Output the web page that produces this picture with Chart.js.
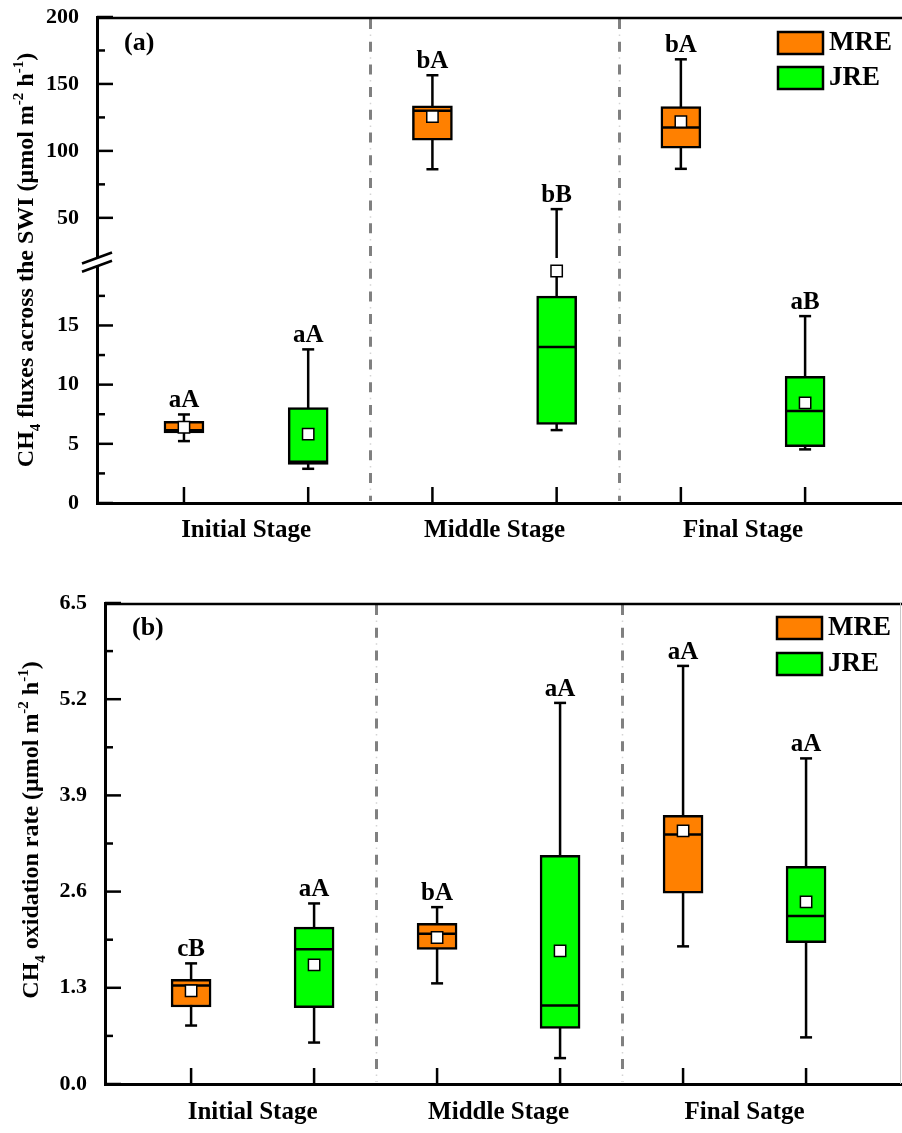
<!DOCTYPE html>
<html>
<head>
<meta charset="utf-8">
<script src="https://cdn.jsdelivr.net/npm/chart.js@4.4.1/dist/chart.umd.min.js"></script>
<style>
  body { margin: 0; background: #fff; }
  canvas { display: block; }
</style>
</head>
<body>
<canvas id="panelA" width="902" height="560"></canvas>
<canvas id="panelB" width="902" height="573"></canvas>
<script>
/* CH4 fluxes (a) and CH4 oxidation rate (b): box plots per stage, MRE vs JRE */

const SERIES = ['MRE', 'JRE'];
const STAGES_A = ['Initial Stage', 'Middle Stage', 'Final Stage'];
const STAGES_B = ['Initial Stage', 'Middle Stage', 'Final Satge'];

// [min, Q1, median, Q3, max] per stage
const fluxMRE = [[5.23, 5.93, 6.15, 6.91, 7.48], [86.3, 108, 129.9, 133.6, 156.5], [86.6, 102, 117.4, 133.1, 168.4]];
const fluxJRE = [[2.89, 3.26, 3.48, 8.07, 12.98], [6.16, 6.63, 13.18, 17.48, 56.5], [4.53, 4.75, 7.78, 10.71, 15.79]];
const fluxMREMean = [6.4, 125.6, 121.9];
const fluxJREMean = [5.82, 19.6, 8.46];
const fluxMRELetters = ['aA', 'bA', 'bA'];
const fluxJRELetters = ['aA', 'bB', 'aB'];

const oxMRE = [[0.79, 1.04, 1.33, 1.415, 1.63], [1.36, 1.82, 2.03, 2.17, 2.39], [1.86, 2.58, 3.37, 3.63, 5.65]];
const oxJRE = [[0.56, 1.03, 1.82, 2.12, 2.44], [0.35, 0.75, 1.06, 3.09, 5.15], [0.63, 1.91, 2.27, 2.94, 4.40]];
const oxMREMean = [1.26, 1.98, 3.42];
const oxJREMean = [1.61, 1.80, 2.46];
const oxMRELetters = ['cB', 'bA', 'aA'];
const oxJRELetters = ['aA', 'aA', 'aA'];

// tick values
const fluxLowTicks = [0, 5, 10, 15];
const fluxLowMinor = [2.5, 7.5, 12.5, 17.5];
const fluxHighTicks = [50, 100, 150, 200];
const fluxHighMinor = [75, 125, 175];
const oxTicks = [0, 1.3, 2.6, 3.9, 5.2, 6.5];
const oxMinor = [0.65, 1.95, 3.25, 4.55, 5.85];

const BREAK = 20;        // axis break in panel (a)
const LOW_TOP = 20.7;    // lower segment runs a bit past the break -> gap
const X_MIN = 0.3, X_MAX = 6.78;
const FONT = '"Liberation Serif", "Times New Roman", serif';
const COLORS = { MRE: '#ff8000', JRE: '#00ff00' };

const posOf = (stage, si) => stage * 2 + si + 1;

/* ---- datasets for one series, split over the y axes it touches ---- */
function boxDatasets(series, stats, means, axes) {
  const si = SERIES.indexOf(series);
  const out = [];
  axes.forEach(ax => {
    const inAx = v => v >= ax.lo && v <= ax.hi;
    const whisk = [], caps = [], boxes = [], meds = [], mns = [];
    stats.forEach(([mn, q1, md, q3, mx], i) => {
      const x = posOf(i, si);
      const a = Math.max(mn, ax.lo), b = Math.min(mx, ax.hi);
      if (a < b) whisk.push({ x, y: a }, { x, y: b }, { x, y: null });
      [mn, mx].filter(inAx).forEach(v => caps.push({ x, y: v }));
      if (inAx(q1) && inAx(q3)) boxes.push({ x, y: [q1, q3] });
      if (inAx(md)) meds.push({ x, y: md });
      if (inAx(means[i])) mns.push({ x, y: means[i] });
    });
    out.push(
      { type: 'line', yAxisID: ax.id, data: whisk, borderColor: '#000', borderWidth: 2.5, pointRadius: 0, spanGaps: false, order: 3 },
      { type: 'bar', yAxisID: ax.id, data: boxes, backgroundColor: COLORS[series], borderColor: '#000', borderWidth: 2.5,
        borderSkipped: false, barThickness: 40, grouped: false, order: 2 },
      { type: 'scatter', yAxisID: ax.id, data: caps, pointStyle: 'line', pointRadius: 6, borderColor: '#000', borderWidth: 2.5, order: 1 },
      { type: 'scatter', yAxisID: ax.id, data: meds, pointStyle: 'line', pointRadius: 19, borderColor: '#000', borderWidth: 2.5, order: 1 },
      { type: 'scatter', yAxisID: ax.id, data: mns, pointStyle: 'rect', pointRadius: 8, backgroundColor: '#fff',
        borderColor: '#000', borderWidth: 1.5, order: 0 }
    );
  });
  return out;
}

/* ---- scales ---- */
function yScale(major, minor, min, max, width, fmt, extra) {
  return Object.assign({
    type: 'linear', position: 'left', min, max,
    grid: { display: false, drawTicks: false },
    border: { color: '#000', width: 3 },
    afterBuildTicks: s => { s.ticks = [...major, ...minor].sort((a, b) => a - b).map(value => ({ value })); },
    afterFit: s => { s.width = width; s.paddingTop = 0; s.paddingBottom = 0; },
    ticks: {
      autoSkip: false, padding: 18, color: '#000',
      font: { family: FONT, size: 22, weight: 'bold' },
      callback: v => major.includes(v) ? fmt(v) : ''
    }
  }, extra || {});
}

function xScale(labels, height, pad) {
  return {
    type: 'linear', min: X_MIN, max: X_MAX, offset: false,
    grid: { display: false, drawTicks: false, offset: false },
    border: { color: '#000', width: 3 },
    afterBuildTicks: s => { s.ticks = labels.map((_, i) => ({ value: i * 2 + 1.5 })); },
    afterFit: s => { s.height = height; s.paddingLeft = 0; s.paddingRight = 0; },
    ticks: {
      autoSkip: false, maxRotation: 0, padding: pad, color: '#000',
      font: { family: FONT, size: 25, weight: 'bold' },
      callback: (v, i) => labels[i]
    }
  };
}

/* ---- rotated title with sub/superscripts ---- */
function drawRich(ctx, segs, cx, cy, size) {
  ctx.save();
  ctx.translate(cx, cy);
  ctx.rotate(-Math.PI / 2);
  const fontOf = s => `bold ${s.sub || s.sup ? Math.round(size * 0.62) : size}px ${FONT}`;
  let total = 0;
  segs.forEach(s => { ctx.font = fontOf(s); total += ctx.measureText(s.t).width; });
  let x = -total / 2;
  ctx.fillStyle = '#000';
  ctx.textAlign = 'left';
  ctx.textBaseline = 'alphabetic';
  segs.forEach(s => {
    ctx.font = fontOf(s);
    ctx.fillText(s.t, x, s.sub ? size * 0.3 : s.sup ? -size * 0.42 : 0);
    x += ctx.measureText(s.t).width;
  });
  ctx.restore();
}

/* ---- frame, ticks, separators, letters, legend ---- */
function decor(o) {
  return {
    id: 'decor',
    beforeDatasetsDraw(chart) {
      const { ctx, chartArea: ca, scales: { x } } = chart;
      ctx.save();
      [2.5, 4.5].forEach(v => {
        const px = Math.round(x.getPixelForValue(v)) + 0.5;
        ctx.lineWidth = 3;
        ctx.strokeStyle = '#808080';
        ctx.setLineDash([10, 12.7]);
        ctx.beginPath(); ctx.moveTo(px, ca.top + 2); ctx.lineTo(px, ca.bottom - 2); ctx.stroke();
        ctx.lineWidth = 1.5;
        ctx.strokeStyle = '#d4d4d4';
        ctx.setLineDash([1.5, 21.2]);
        ctx.lineDashOffset = -15.6;
        ctx.beginPath(); ctx.moveTo(px, ca.top + 2); ctx.lineTo(px, ca.bottom - 2); ctx.stroke();
        ctx.lineDashOffset = 0;
      });
      ctx.restore();
    },
    afterDraw(chart) {
      const { ctx, chartArea: ca, scales } = chart;
      ctx.save();
      ctx.strokeStyle = '#000';
      ctx.lineCap = 'butt';

      // top frame line, faint right edge
      ctx.lineWidth = 2.5;
      ctx.beginPath(); ctx.moveTo(ca.left, ca.top + 1); ctx.lineTo(ca.right, ca.top + 1); ctx.stroke();
      if (o.rightEdge) {
        ctx.lineWidth = 1; ctx.strokeStyle = '#c8c8c8';
        ctx.beginPath(); ctx.moveTo(ca.right - 1.5, ca.top); ctx.lineTo(ca.right - 1.5, ca.bottom); ctx.stroke();
        ctx.strokeStyle = '#000';
      }

      // inward tick marks on y
      ctx.lineWidth = 2.5;
      o.yIds.forEach(id => {
        const s = scales[id];
        s.ticks.forEach(t => {
          const y = s.getPixelForValue(t.value);
          const len = t.label !== '' ? 16 : 8;
          ctx.beginPath(); ctx.moveTo(ca.left, y); ctx.lineTo(ca.left + len, y); ctx.stroke();
        });
      });
      // inward tick marks on x, one per box
      o.stages.forEach((_, i) => SERIES.forEach((_, si) => {
        const px = scales.x.getPixelForValue(posOf(i, si));
        ctx.beginPath(); ctx.moveTo(px, ca.bottom); ctx.lineTo(px, ca.bottom - 16); ctx.stroke();
      }));

      // axis break marks
      if (o.breakAxis) {
        const l = ca.left;
        const p1 = scales.yHigh.getPixelForValue(BREAK);
        const p2 = scales.yLow.getPixelForValue(BREAK);
        ctx.fillStyle = '#fff';
        ctx.beginPath();
        ctx.moveTo(l - 4, p1 + 1.5); ctx.lineTo(l + 4, p1 - 1.5); ctx.lineTo(l + 4, p2 - 1.5); ctx.lineTo(l - 4, p2 + 1.5);
        ctx.closePath(); ctx.fill();
        ctx.lineWidth = 2.5;
        [p1, p2].forEach(p => {
          ctx.beginPath(); ctx.moveTo(l - 15, p + 5.5); ctx.lineTo(l + 15, p - 5.5); ctx.stroke();
        });
      }

      // significance letters above each box
      ctx.fillStyle = '#000';
      ctx.textAlign = 'center';
      ctx.textBaseline = 'alphabetic';
      ctx.font = `bold 25px ${FONT}`;
      o.groups.forEach(g => {
        const si = SERIES.indexOf(g.series);
        g.stats.forEach((st, i) => {
          const s = scales[o.axisFor(st[4])];
          ctx.fillText(g.letters[i], scales.x.getPixelForValue(posOf(i, si)), s.getPixelForValue(st[4]) - 7);
        });
      });

      // legend
      ctx.textAlign = 'left';
      SERIES.forEach((name, i) => {
        const top = o.legend.top + i * o.legend.step;
        ctx.fillStyle = COLORS[name];
        ctx.fillRect(o.legend.x, top, 45, 22);
        ctx.lineWidth = 2.5;
        ctx.strokeRect(o.legend.x, top, 45, 22);
        ctx.fillStyle = '#000';
        ctx.font = `bold 27px ${FONT}`;
        ctx.fillText(name, o.legend.x + 51, top + 18);
      });

      // panel tag
      ctx.font = `bold 26px ${FONT}`;
      ctx.fillText(o.tag, ca.left + 27, o.tagY);

      drawRich(ctx, o.title, o.titleX, o.titleY, 24);
      ctx.restore();
    }
  };
}

function baseOptions(padTop) {
  return {
    responsive: false,
    devicePixelRatio: 1,
    animation: false,
    events: [],
    layout: { autoPadding: false, padding: { top: padTop, left: 0, right: 0, bottom: 0 } },
    plugins: { legend: { display: false }, tooltip: { enabled: false } }
  };
}

/* ---- panel (a): broken y axis ---- */
const axesA = [{ id: 'yLow', lo: 0, hi: BREAK }, { id: 'yHigh', lo: BREAK, hi: 200 }];
new Chart(document.getElementById('panelA'), {
  type: 'scatter',
  data: {
    datasets: [
      ...boxDatasets('MRE', fluxMRE, fluxMREMean, axesA),
      ...boxDatasets('JRE', fluxJRE, fluxJREMean, axesA)
    ]
  },
  options: Object.assign(baseOptions(17), {
    scales: {
      x: xScale(STAGES_A, 57, 13),
      yLow: yScale(fluxLowTicks, fluxLowMinor, 0, LOW_TOP, 97, String, { stack: 'flux', stackWeight: 245, weight: 0 }),
      yHigh: yScale(fluxHighTicks, fluxHighMinor, BREAK, 200, 97, String, { stack: 'flux', stackWeight: 241, weight: 1 })
    }
  }),
  plugins: [decor({
    yIds: ['yLow', 'yHigh'],
    stages: STAGES_A,
    breakAxis: true,
    axisFor: v => (v > BREAK ? 'yHigh' : 'yLow'),
    groups: [
      { series: 'MRE', stats: fluxMRE, letters: fluxMRELetters },
      { series: 'JRE', stats: fluxJRE, letters: fluxJRELetters }
    ],
    legend: { x: 778, top: 32, step: 35 },
    tag: '(a)', tagY: 50,
    title: [{ t: 'CH' }, { t: '4', sub: true }, { t: ' fluxes across the SWI (μmol m' }, { t: '-2', sup: true },
            { t: ' h' }, { t: '-1', sup: true }, { t: ')' }],
    titleX: 33, titleY: 260
  })]
});

/* ---- panel (b) ---- */
const axesB = [{ id: 'y', lo: 0, hi: 6.5 }];
new Chart(document.getElementById('panelB'), {
  type: 'scatter',
  data: {
    datasets: [
      ...boxDatasets('MRE', oxMRE, oxMREMean, axesB),
      ...boxDatasets('JRE', oxJRE, oxJREMean, axesB)
    ]
  },
  options: Object.assign(baseOptions(43), {
    scales: {
      x: xScale(STAGES_B, 49, 14),
      y: yScale(oxTicks, oxMinor, 0, 6.5, 105, v => v.toFixed(1))
    }
  }),
  plugins: [decor({
    yIds: ['y'],
    stages: STAGES_B,
    breakAxis: false,
    rightEdge: true,
    axisFor: () => 'y',
    groups: [
      { series: 'MRE', stats: oxMRE, letters: oxMRELetters },
      { series: 'JRE', stats: oxJRE, letters: oxJRELetters }
    ],
    legend: { x: 777, top: 57, step: 36 },
    tag: '(b)', tagY: 75,
    title: [{ t: 'CH' }, { t: '4', sub: true }, { t: ' oxidation rate (μmol m' }, { t: '-2', sup: true },
            { t: ' h' }, { t: '-1', sup: true }, { t: ')' }],
    titleX: 38, titleY: 270
  })]
});
</script>
</body>
</html>
